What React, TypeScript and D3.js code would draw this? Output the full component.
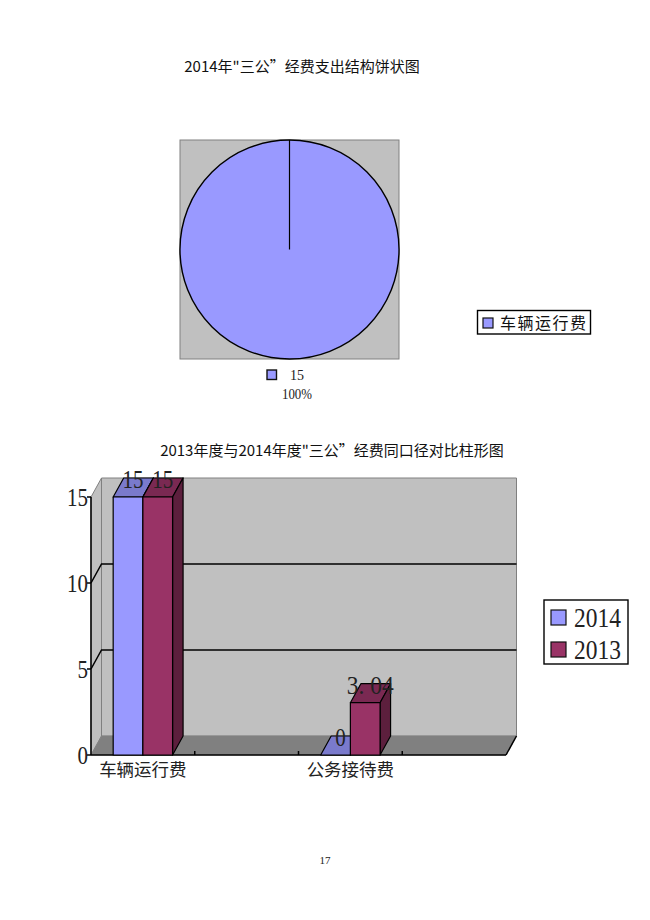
import React, {useEffect, useRef} from "react";
import * as d3 from "d3";

const pieCategories = ["车辆运行费"];
const pieValues = [15];
const piePercent = ["100%"];

const barCategories = ["车辆运行费", "", "公务接待费", ""];
const seriesNames = ["2014", "2013"];
const values2014 = [15, null, 0, null];
const values2013 = [15, null, 3.04, null];
const labels2014 = ["15", "", "0", ""];
const labels2013 = ["15", "", "3. 04", ""];
const yTicks = [0, 5, 10, 15];

const BLUE = "#9999ff";
const BLUE_TOP = "#7a7acc";
const RED = "#993366";
const RED_TOP = "#7a2952";
const RED_SIDE = "#5c1f3d";
const WALL = "#c0c0c0";
const FLOOR = "#808080";
const SERIF = "'Liberation Serif', serif";
const CJK = "'Noto Sans CJK SC', sans-serif";

const App: React.FC = () => {
    const svgRef = useRef<SVGSVGElement | null>(null);

    useEffect(() => {
        if (!svgRef.current) return;
        const svg = d3.select(svgRef.current);
        svg.selectAll("*").remove();

        const title = (text: string, x: number, y: number) =>
            svg.append("text").attr("x", x).attr("y", y)
                .attr("text-anchor", "middle")
                .style("font-family", CJK).style("font-size", "15px").style("font-weight", 400)
                .attr("fill", "#111").text(text);

        // narrow serif digits, the source font is much taller than it is wide
        const digits = (t: string, px: number, py: number, size: number, len: number, anchor = "middle") =>
            svg.append("text").attr("x", px).attr("y", py).attr("text-anchor", anchor)
                .attr("textLength", len).attr("lengthAdjust", "spacingAndGlyphs")
                .style("font-family", SERIF).style("font-size", `${size}px`).attr("fill", "#222").text(t);

        // pie
        title("2014年\"三公”经费支出结构饼状图", 302, 72);
        const box = {x: 180, y: 140, size: 219};
        svg.append("rect").attr("x", box.x).attr("y", box.y)
            .attr("width", box.size).attr("height", box.size)
            .attr("fill", WALL).attr("stroke", "#808080").attr("stroke-width", 1);

        const pie = d3.pie<number>().sort(null)(pieValues);
        const arc = d3.arc<d3.PieArcDatum<number>>().innerRadius(0).outerRadius(box.size / 2);
        const pieG = svg.append("g")
            .attr("transform", `translate(${box.x + box.size / 2},${box.y + box.size / 2})`);
        pieG.selectAll("path").data(pie).enter().append("path")
            .attr("d", arc as any).attr("fill", BLUE).attr("stroke", "#000").attr("stroke-width", 1.4);
        pieG.append("line").attr("x1", 0).attr("y1", 0).attr("x2", 0).attr("y2", -box.size / 2)
            .attr("stroke", "#000").attr("stroke-width", 1.2);

        svg.append("rect").attr("x", 267).attr("y", 370).attr("width", 9.5).attr("height", 9.5)
            .attr("fill", BLUE).attr("stroke", "#111").attr("stroke-width", 1.4);
        digits(String(pieValues[0]), 297, 380, 15, 14);
        digits(piePercent[0], 297, 399, 15, 30);

        svg.append("rect").attr("x", 477.5).attr("y", 310.5).attr("width", 113).attr("height", 23.5)
            .attr("fill", "#fff").attr("stroke", "#000").attr("stroke-width", 1.4);
        svg.append("rect").attr("x", 483).attr("y", 318).attr("width", 10).attr("height", 10)
            .attr("fill", BLUE).attr("stroke", "#111").attr("stroke-width", 1.2);
        svg.append("text").attr("x", 500).attr("y", 329)
            .attr("textLength", 86).attr("lengthAdjust", "spacing")
            .style("font-family", CJK).style("font-size", "16px").style("font-weight", 400)
            .attr("fill", "#111").text(pieCategories[0]);

        // bars
        title("2013年度与2014年度\"三公”经费同口径对比柱形图", 332, 456);

        const plot = {left: 91, right: 506, top: 497, bottom: 755};
        const depth = {x: 10.5, y: -19};
        const x = d3.scaleBand<number>().domain(d3.range(barCategories.length))
            .range([plot.left, plot.right]);
        const barW = 29.7;
        const y = d3.scaleLinear().domain([0, 15]).range([plot.bottom, plot.top]);
        const poly = (pts: number[][]) => pts.map(p => p.join(",")).join(" ");

        // back wall, side wall, floor
        svg.append("polygon")
            .attr("points", poly([[plot.left + depth.x, plot.top + depth.y], [plot.right + depth.x, plot.top + depth.y],
                [plot.right + depth.x, plot.bottom + depth.y], [plot.left + depth.x, plot.bottom + depth.y]]))
            .attr("fill", WALL).attr("stroke", "#808080").attr("stroke-width", 1);
        svg.append("polygon")
            .attr("points", poly([[plot.left, plot.top], [plot.left + depth.x, plot.top + depth.y],
                [plot.left + depth.x, plot.bottom + depth.y], [plot.left, plot.bottom]]))
            .attr("fill", WALL).attr("stroke", "#808080").attr("stroke-width", 1);
        svg.append("polygon")
            .attr("points", poly([[plot.left, plot.bottom], [plot.right, plot.bottom],
                [plot.right + depth.x, plot.bottom + depth.y], [plot.left + depth.x, plot.bottom + depth.y]]))
            .attr("fill", FLOOR).attr("stroke", "#808080").attr("stroke-width", 0.5);

        // gridlines
        yTicks.filter(t => t === 5 || t === 10).forEach(t => {
            svg.append("polyline")
                .attr("points", poly([[plot.left, y(t)], [plot.left + depth.x, y(t) + depth.y], [plot.right + depth.x, y(t) + depth.y]]))
                .attr("fill", "none").attr("stroke", "#000").attr("stroke-width", 1.5);
        });

        // axes
        const axisLine = (x1: number, y1: number, x2: number, y2: number) =>
            svg.append("line").attr("x1", x1).attr("y1", y1).attr("x2", x2).attr("y2", y2)
                .attr("stroke", "#000").attr("stroke-width", 1.5);
        axisLine(plot.left, plot.top, plot.left, plot.bottom);
        axisLine(plot.left, plot.bottom, plot.right, plot.bottom);
        axisLine(plot.right, plot.bottom, plot.right + depth.x, plot.bottom + depth.y);
        yTicks.forEach(t => {
            axisLine(plot.left - 4, y(t), plot.left, y(t));
            const s = String(t);
            digits(s, plot.left - 3, y(t) + 9, 26, s.length * 10.5, "end");
        });
        d3.range(1, barCategories.length).forEach(i => {
            axisLine(x(i)!, plot.bottom, x(i)!, plot.bottom - 4);
        });

        // 3d bars, drawn back-to-front per category
        const drawBar = (x0: number, v: number, front: string, top: string, side: string) => {
            const yv = y(v);
            const g = svg.append("g").attr("stroke", "#000").attr("stroke-width", 1.2).attr("stroke-linejoin", "round");
            g.append("polygon")
                .attr("points", poly([[x0, yv], [x0 + barW, yv], [x0 + barW + depth.x, yv + depth.y], [x0 + depth.x, yv + depth.y]]))
                .attr("fill", top);
            g.append("polygon")
                .attr("points", poly([[x0 + barW, yv], [x0 + barW + depth.x, yv + depth.y], [x0 + barW + depth.x, plot.bottom + depth.y], [x0 + barW, plot.bottom]]))
                .attr("fill", side);
            g.append("rect").attr("x", x0).attr("y", yv).attr("width", barW)
                .attr("height", plot.bottom - yv).attr("fill", front);
        };

        barCategories.forEach((c, i) => {
            const cx = x(i)! + x.bandwidth() / 2;
            const v14 = values2014[i];
            const v13 = values2013[i];
            if (v14 !== null) drawBar(cx - barW, v14, BLUE, BLUE_TOP, "#5c5c99");
            if (v13 !== null) drawBar(cx, v13, RED, RED_TOP, RED_SIDE);
            if (v14 !== null) {
                const s = labels2014[i];
                digits(s, cx - barW / 2 + 5, y(v14) + depth.y + 10, 25, s.length * 10.5);
            }
            if (v13 !== null) {
                const s = labels2013[i];
                digits(s, cx + barW / 2 + 5, y(v13) + depth.y + 10, 25, s.length === 2 ? 21 : 47);
            }
            if (c) {
                svg.append("text").attr("x", cx).attr("y", plot.bottom + 21).attr("text-anchor", "middle")
                    .style("font-family", CJK).style("font-size", "17.5px").style("font-weight", 400)
                    .attr("fill", "#222").text(c);
            }
        });

        // legend
        svg.append("rect").attr("x", 544).attr("y", 600).attr("width", 84).attr("height", 64)
            .attr("fill", "#fff").attr("stroke", "#000").attr("stroke-width", 1.4);
        seriesNames.forEach((s, i) => {
            const ly = 610 + i * 32;
            svg.append("rect").attr("x", 551).attr("y", ly).attr("width", 15).attr("height", 15)
                .attr("fill", i === 0 ? BLUE : RED).attr("stroke", "#111").attr("stroke-width", 1.2);
            digits(s, 574, ly + 17, 27, 47, "start");
        });

        // page number
        svg.append("text").attr("x", 325).attr("y", 864).attr("text-anchor", "middle")
            .style("font-family", SERIF).style("font-size", "11px").attr("fill", "#222").text("17");
    }, []);

    return (
        <svg ref={svgRef} width={650} height={920}
             style={{position: "absolute", left: 0, top: 0, background: "#fff"}}/>
    );
};

export default App;
